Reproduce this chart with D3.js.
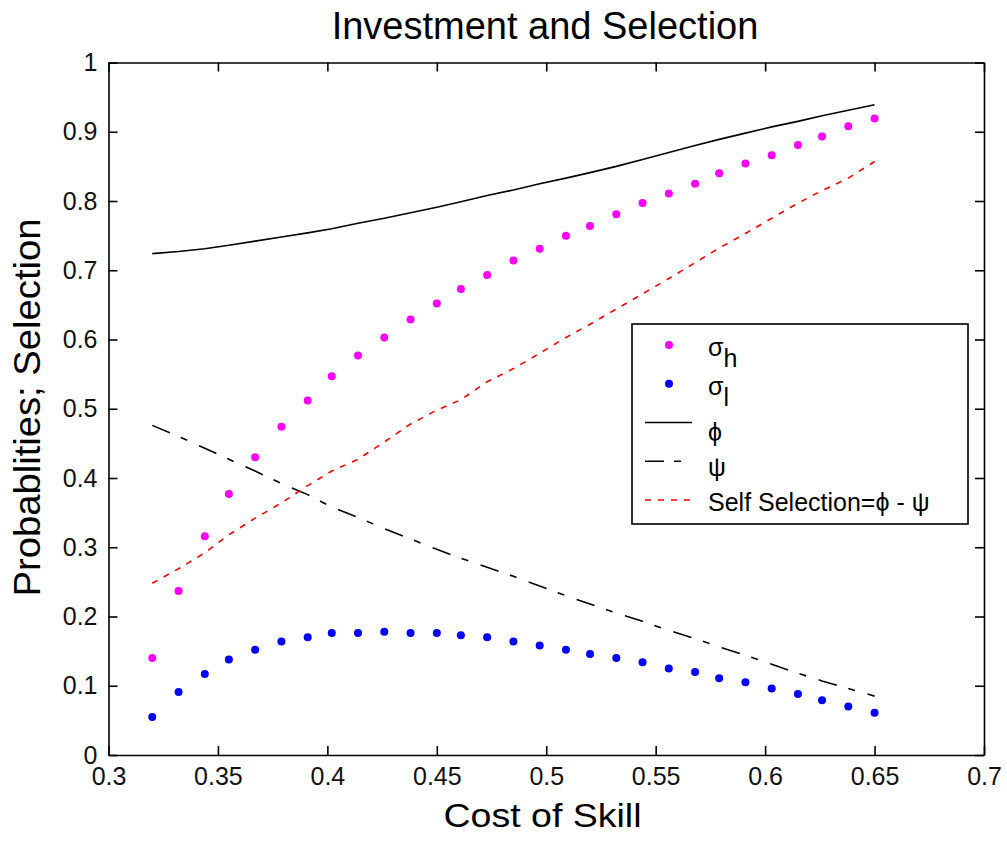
<!DOCTYPE html>
<html>
<head>
<meta charset="utf-8">
<script src="https://cdn.jsdelivr.net/npm/d3@7"></script>
<style>
  body { margin: 0; background: #fff; }
  svg { display: block; font-family: "Liberation Sans", Arial, sans-serif; }
</style>
</head>
<body>
<div id="chart"></div>
<script>
// cost of skill (x) and the five series
const costSkill = [0.320, 0.332, 0.344, 0.355, 0.367, 0.379, 0.391, 0.402, 0.414, 0.426,
  0.438, 0.450, 0.461, 0.473, 0.485, 0.497, 0.509, 0.520, 0.532, 0.544,
  0.556, 0.568, 0.579, 0.591, 0.603, 0.615, 0.626, 0.638, 0.650];
const sigmaH = [0.140, 0.237, 0.316, 0.377, 0.430, 0.474, 0.512, 0.547, 0.577, 0.603,
  0.629, 0.652, 0.673, 0.693, 0.714, 0.731, 0.750, 0.764, 0.781, 0.797,
  0.811, 0.825, 0.840, 0.854, 0.866, 0.881, 0.893, 0.908, 0.919];
const sigmaL = [0.055, 0.091, 0.117, 0.138, 0.152, 0.164, 0.170, 0.176, 0.176, 0.178,
  0.176, 0.176, 0.173, 0.170, 0.164, 0.158, 0.152, 0.146, 0.140, 0.134,
  0.125, 0.120, 0.111, 0.105, 0.096, 0.088, 0.079, 0.070, 0.061];
const phi = [0.724, 0.727, 0.731, 0.736, 0.742, 0.748, 0.754, 0.760, 0.768, 0.775,
  0.783, 0.791, 0.799, 0.808, 0.816, 0.825, 0.833, 0.841, 0.850, 0.860,
  0.870, 0.880, 0.889, 0.898, 0.907, 0.915, 0.923, 0.931, 0.939];
const psi = [0.476, 0.460, 0.443, 0.427, 0.410, 0.392, 0.376, 0.358, 0.343, 0.327,
  0.312, 0.297, 0.284, 0.271, 0.258, 0.244, 0.230, 0.218, 0.205, 0.193,
  0.180, 0.168, 0.156, 0.144, 0.131, 0.118, 0.107, 0.096, 0.085];
const selfSelection = [0.248, 0.269, 0.292, 0.318, 0.342, 0.364, 0.389, 0.410, 0.427, 0.452,
  0.478, 0.498, 0.513, 0.539, 0.558, 0.580, 0.603, 0.622, 0.644, 0.666,
  0.688, 0.711, 0.732, 0.753, 0.775, 0.797, 0.815, 0.833, 0.857];

const xTicks = [0.3, 0.35, 0.4, 0.45, 0.5, 0.55, 0.6, 0.65, 0.7];
const yTicks = [0, 0.1, 0.2, 0.3, 0.4, 0.5, 0.6, 0.7, 0.8, 0.9, 1];

const width = 1007, height = 842;
const margin = {top: 62.5, right: 23, bottom: 87, left: 108.5};

const svg = d3.select("#chart").append("svg")
  .attr("width", width)
  .attr("height", height);

svg.append("rect").attr("width", width).attr("height", height).attr("fill", "#fff");

const x = d3.scaleLinear().domain([0.3, 0.7]).range([margin.left, width - margin.right]);
const y = d3.scaleLinear().domain([0, 1]).range([height - margin.bottom, margin.top]);

const tickLen = 9;
const fmt = d => String(+d.toFixed(2));

function styleAxis(g) {
  g.selectAll("path, line").attr("stroke", "#000").attr("stroke-width", 1.6);
  g.selectAll("text").attr("fill", "#111").style("font-size", "25px")
    .style("font-family", "'Liberation Sans', Arial, sans-serif");
}

svg.append("g")
  .attr("transform", `translate(0,${y(0)})`)
  .call(d3.axisBottom(x).tickValues(xTicks).tickFormat(fmt)
    .tickSizeInner(-tickLen).tickSizeOuter(0).tickPadding(12))
  .call(styleAxis);

svg.append("g")
  .attr("transform", `translate(0,${y(1)})`)
  .call(d3.axisTop(x).tickValues(xTicks).tickFormat("")
    .tickSizeInner(-tickLen).tickSizeOuter(0))
  .call(styleAxis);

svg.append("g")
  .attr("transform", `translate(${x(0.3)},0)`)
  .call(d3.axisLeft(y).tickValues(yTicks).tickFormat(fmt)
    .tickSizeInner(-tickLen).tickSizeOuter(0).tickPadding(11))
  .call(styleAxis);

svg.append("g")
  .attr("transform", `translate(${x(0.7)},0)`)
  .call(d3.axisRight(y).tickValues(yTicks).tickFormat("")
    .tickSizeInner(-tickLen).tickSizeOuter(0))
  .call(styleAxis);

// series
const rows = costSkill.map((c, i) => ({c, sh: sigmaH[i], sl: sigmaL[i], phi: phi[i], psi: psi[i], ss: selfSelection[i]}));

const line = key => d3.line().x(d => x(d.c)).y(d => y(d[key]));

svg.append("path").datum(rows)
  .attr("d", line("phi")).attr("fill", "none")
  .attr("stroke", "#000").attr("stroke-width", 1.6);

svg.append("path").datum(rows)
  .attr("d", line("psi")).attr("fill", "none")
  .attr("stroke", "#000").attr("stroke-width", 1.6)
  .attr("stroke-dasharray", "19,12,7,13");

svg.append("path").datum(rows)
  .attr("d", line("ss")).attr("fill", "none")
  .attr("stroke", "#ff0000").attr("stroke-width", 1.6)
  .attr("stroke-dasharray", "6,7");

svg.append("g").selectAll("circle").data(rows).join("circle")
  .attr("cx", d => x(d.c)).attr("cy", d => y(d.sh)).attr("r", 4)
  .attr("fill", "#ff00ff");

svg.append("g").selectAll("circle").data(rows).join("circle")
  .attr("cx", d => x(d.c)).attr("cy", d => y(d.sl)).attr("r", 4)
  .attr("fill", "#0000ff");

// title and axis labels
svg.append("text")
  .attr("x", 545).attr("y", 39)
  .attr("text-anchor", "middle")
  .style("font-size", "38px")
  .text("Investment and Selection");

svg.append("text")
  .attr("x", 542.5).attr("y", 826.5)
  .attr("text-anchor", "middle")
  .attr("textLength", 198).attr("lengthAdjust", "spacingAndGlyphs")
  .style("font-size", "34px")
  .text("Cost of Skill");

svg.append("text")
  .attr("transform", "translate(40,407.5) rotate(-90)")
  .attr("text-anchor", "middle")
  .attr("textLength", 378).attr("lengthAdjust", "spacingAndGlyphs")
  .style("font-size", "37px")
  .text("Probablities; Selection");

// legend
const legendEntries = [
  {kind: "dot", color: "#ff00ff", main: "σ", sub: "h", dy: 11},
  {kind: "dot", color: "#0000ff", main: "σ", sub: "l", dy: 11},
  {kind: "line", color: "#000", dash: null, main: "ϕ", dy: 18},
  {kind: "line", color: "#000", dash: "19,10,7,13", main: "ψ", dy: 15},
  {kind: "line", color: "#ff0000", dash: "6,7", main: "Self Selection=ϕ - ψ", dy: 11}
];

const lg = svg.append("g").attr("transform", "translate(632,324)");
lg.append("rect")
  .attr("width", 336).attr("height", 200)
  .attr("fill", "#fff").attr("stroke", "#000").attr("stroke-width", 1.6);

const entry = lg.selectAll(".entry").data(legendEntries).join("g")
  .attr("class", "entry")
  .attr("transform", (d, i) => `translate(0,${21 + 38.75 * i})`);

entry.filter(d => d.kind === "dot").append("circle")
  .attr("cx", 37).attr("cy", 0).attr("r", 4).attr("fill", d => d.color);

entry.filter(d => d.kind === "line").append("line")
  .attr("x1", 13).attr("x2", 60).attr("y1", 0).attr("y2", 0)
  .attr("stroke", d => d.color).attr("stroke-width", 1.6)
  .attr("stroke-dasharray", d => d.dash);

const lt = entry.append("text")
  .attr("x", 76).attr("y", d => d.dy)
  .style("font-size", "25px");
lt.append("tspan").text(d => d.main);
lt.filter(d => d.sub).append("tspan")
  .attr("dy", 11).text(d => d.sub);
</script>
</body>
</html>
